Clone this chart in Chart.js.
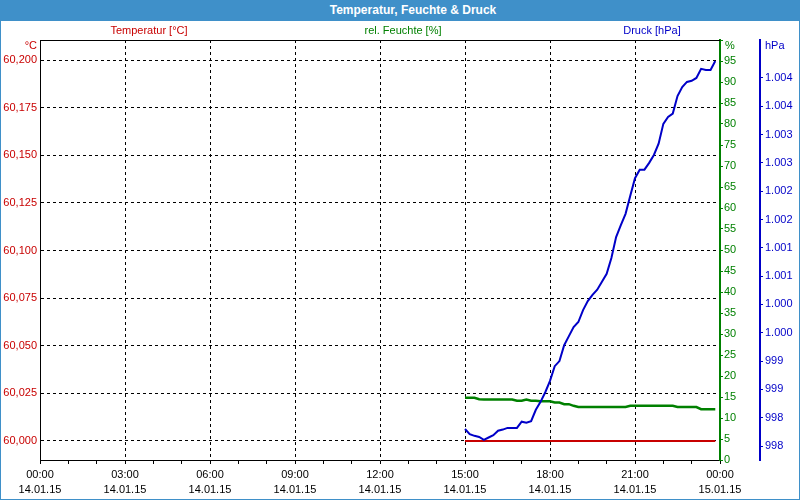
<!DOCTYPE html>
<html>
<head>
<meta charset="utf-8">
<script src="https://cdn.jsdelivr.net/npm/chart.js@4/dist/chart.umd.min.js"></script>
<style>
  html, body { margin: 0; padding: 0; background: #fff; }
  #wrap { position: relative; width: 800px; height: 500px; overflow: hidden; }
  #c { position: absolute; left: 0; top: 0; }
  #titlebar {
    position: absolute; left: 0; top: 0; width: 800px; height: 21px;
    background: #3f90c9; color: #fff; box-sizing: border-box; padding-left: 26px;
    font: bold 12px "Liberation Sans", Arial, sans-serif; line-height: 21px; text-align: center;
  }
  #frame {
    position: absolute; left: 0; top: 0; width: 800px; height: 500px; box-sizing: border-box;
    border: 1px solid #3f90c9; border-top: none; pointer-events: none;
  }
</style>
</head>
<body>
<div id="wrap">
  <canvas id="c" width="800" height="500"></canvas>
  <div id="titlebar">Temperatur, Feuchte &amp; Druck</div>
  <div id="frame"></div>
</div>
<script>
// ===== Data (10 minute readings, 14.01.15 15:00 - 23:50) =====
const timeLabels = [
  "15:00", "15:10", "15:20", "15:30", "15:40", "15:50",
  "16:00", "16:10", "16:20", "16:30", "16:40", "16:50",
  "17:00", "17:10", "17:20", "17:30", "17:40", "17:50",
  "18:00", "18:10", "18:20", "18:30", "18:40", "18:50",
  "19:00", "19:10", "19:20", "19:30", "19:40", "19:50",
  "20:00", "20:10", "20:20", "20:30", "20:40", "20:50",
  "21:00", "21:10", "21:20", "21:30", "21:40", "21:50",
  "22:00", "22:10", "22:20", "22:30", "22:40", "22:50",
  "23:00", "23:10", "23:20", "23:30", "23:40", "23:50"
];

const temperature = [
  60.000, 60.000, 60.000, 60.000, 60.000, 60.000,
  60.000, 60.000, 60.000, 60.000, 60.000, 60.000,
  60.000, 60.000, 60.000, 60.000, 60.000, 60.000,
  60.000, 60.000, 60.000, 60.000, 60.000, 60.000,
  60.000, 60.000, 60.000, 60.000, 60.000, 60.000,
  60.000, 60.000, 60.000, 60.000, 60.000, 60.000,
  60.000, 60.000, 60.000, 60.000, 60.000, 60.000,
  60.000, 60.000, 60.000, 60.000, 60.000, 60.000,
  60.000, 60.000, 60.000, 60.000, 60.000, 60.000
];

const humidity = [
  14.8, 14.8, 14.8, 14.45, 14.4, 14.4,
  14.4, 14.4, 14.4, 14.4, 14.4, 14.1,
  14.1, 14.4, 14.1, 14.1, 14.0, 14.0,
  14.0, 13.7, 13.7, 13.3, 13.3, 12.9,
  12.6, 12.6, 12.6, 12.6, 12.6, 12.6,
  12.6, 12.6, 12.6, 12.6, 12.6, 12.9,
  12.9, 12.9, 12.9, 12.9, 12.9, 12.9,
  12.9, 12.9, 12.9, 12.6, 12.6, 12.6,
  12.6, 12.6, 12.1, 12.1, 12.1, 12.1
];

const pressure = [
  998.30, 998.21, 998.18, 998.16, 998.11, 998.15,
  998.19, 998.27, 998.29, 998.32, 998.32, 998.32,
  998.43, 998.41, 998.44, 998.64, 998.78, 998.95,
  999.15, 999.41, 999.50, 999.78, 999.94, 1000.10,
  1000.19, 1000.40, 1000.56, 1000.67, 1000.76, 1000.90,
  1001.04, 1001.32, 1001.69, 1001.90, 1002.10, 1002.42,
  1002.73, 1002.88, 1002.88, 1003.00, 1003.14, 1003.34,
  1003.69, 1003.81, 1003.87, 1004.18, 1004.34, 1004.43,
  1004.45, 1004.50, 1004.66, 1004.64, 1004.64, 1004.80
];

// x axis: hours since 14.01.15 00:00, labelled every 3 hours
const hourLabels = ["00:00", "03:00", "06:00", "09:00", "12:00", "15:00", "18:00", "21:00", "00:00"];
const dateLabels = ["14.01.15", "14.01.15", "14.01.15", "14.01.15", "14.01.15", "14.01.15", "14.01.15", "14.01.15", "15.01.15"];

const RED = "#c80000";
const GREEN = "#008000";
const BLUE = "#0000c8";

function toHours(label) {
  const [h, m] = label.split(":").map(Number);
  return h + m / 60;
}
function series(values) {
  return values.map((v, i) => ({ x: toHours(timeLabels[i]), y: v }));
}
function hpaLabel(v) {
  const n = Math.floor(v + 1e-6);
  return n >= 1000 ? Math.floor(n / 1000) + "." + String(n % 1000).padStart(3, "0") : String(n);
}

Chart.defaults.font.family = '"Liberation Sans", Arial, sans-serif';
Chart.defaults.font.size = 11;

// header texts, unit labels and top frame line
const headerPlugin = {
  id: "header",
  afterDraw(chart) {
    const { ctx, chartArea, scales } = chart;
    ctx.save();
    ctx.strokeStyle = "#000";
    ctx.lineWidth = 1;
    ctx.beginPath();
    ctx.moveTo(chartArea.left, chartArea.top + 0.5);
    ctx.lineTo(chartArea.right, chartArea.top + 0.5);
    ctx.stroke();

    ctx.font = '11px "Liberation Sans", Arial, sans-serif';
    ctx.textBaseline = "middle";
    ctx.textAlign = "center";
    ctx.fillStyle = RED;
    ctx.fillText("Temperatur [°C]", 149, 31);
    ctx.fillStyle = GREEN;
    ctx.fillText("rel. Feuchte [%]", 403, 31);
    ctx.fillStyle = BLUE;
    ctx.fillText("Druck [hPa]", 652, 31);

    ctx.textAlign = "right";
    ctx.fillStyle = RED;
    ctx.fillText("°C", scales.yTemp.right - 3, 46);
    ctx.textAlign = "left";
    ctx.fillStyle = GREEN;
    ctx.fillText("%", scales.yHum.left + 5, 46);
    ctx.fillStyle = BLUE;
    ctx.fillText("hPa", scales.yPres.left + 5, 46);
    ctx.restore();
  }
};

new Chart(document.getElementById("c"), {
  type: "line",
  data: {
    datasets: [
      {
        label: "Druck [hPa]",
        data: series(pressure),
        yAxisID: "yPres",
        borderColor: BLUE,
        borderWidth: 2,
        order: 0,
      },
      {
        label: "rel. Feuchte [%]",
        data: series(humidity),
        yAxisID: "yHum",
        borderColor: GREEN,
        borderWidth: 2.5,
        order: 1,
      },
      {
        label: "Temperatur [°C]",
        data: series(temperature),
        yAxisID: "yTemp",
        borderColor: RED,
        borderWidth: 2,
        order: 2,
      },
    ],
  },
  options: {
    responsive: false,
    animation: false,
    layout: { padding: { top: 40, right: 2, bottom: 2, left: 0 } },
    elements: { point: { radius: 0 }, line: { tension: 0 } },
    plugins: { legend: { display: false }, tooltip: { enabled: false } },
    scales: {
      x: {
        type: "linear",
        min: 0,
        max: 24,
        afterFit: (s) => { s.height = 38; },
        ticks: {
          stepSize: 1,
          autoSkip: false,
          maxRotation: 0,
          minRotation: 0,
          padding: 3,
          color: "#000",
          font: { lineHeight: 1.4 },
          callback: (v) => {
            if (v % 3 !== 0) return "";
            const k = v / 3;
            return [hourLabels[k], dateLabels[k]];
          },
        },
        grid: {
          color: (c) => (c.tick && c.tick.value % 3 === 0 && c.tick.value > 0 && c.tick.value < 24 ? "#000" : "rgba(0,0,0,0)"),
          tickColor: "#000",
          tickLength: 4,
          tickBorderDash: [],
        },
        border: { color: "#000", width: 1, dash: [3, 3] },
      },
      yTemp: {
        position: "left",
        min: 59.99,
        max: 60.2106,
        afterFit: (s) => { s.width = 40; },
        ticks: {
          stepSize: 0.025,
          includeBounds: false,
          color: RED,
          padding: 3,
          callback: (v) => v.toFixed(3).replace(".", ","),
        },
        grid: { color: "#000", drawTicks: false },
        border: { color: "#000", width: 1, dash: [3, 3] },
      },
      yHum: {
        position: "right",
        weight: 0,
        min: 0,
        max: 100,
        afterFit: (s) => { s.width = 40; },
        ticks: {
          stepSize: 5,
          color: GREEN,
          padding: 1,
          callback: (v) => (v >= 100 ? "" : String(v)),
        },
        grid: { drawOnChartArea: false, color: GREEN, tickLength: 3, tickBorderDash: [] },
        border: { color: GREEN, width: 2 },
      },
      yPres: {
        position: "right",
        weight: 1,
        min: 997.753,
        max: 1005.17,
        afterFit: (s) => { s.width = 38; },
        afterBuildTicks: (s) => {
          s.ticks = s.ticks.filter((t) => t.value >= 998 && t.value <= 1004.5);
        },
        ticks: {
          stepSize: 0.5,
          includeBounds: false,
          autoSkip: false,
          color: BLUE,
          padding: 2,
          callback: (v) => hpaLabel(v),
        },
        grid: { drawOnChartArea: false, color: BLUE, tickLength: 3, tickBorderDash: [] },
        border: { color: BLUE, width: 2 },
      },
    },
  },
  plugins: [headerPlugin],
});
</script>
</body>
</html>
